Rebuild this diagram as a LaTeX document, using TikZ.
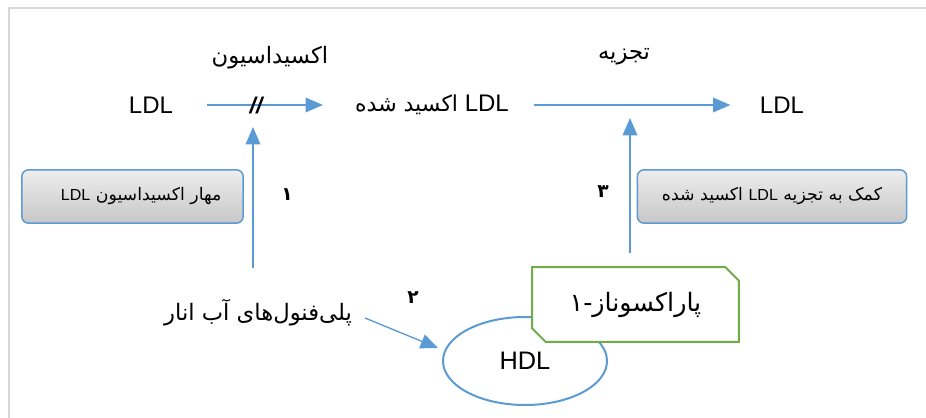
\documentclass[tikz,border=0pt]{standalone}
\usepackage{fontspec}
\setmainfont{Liberation Sans}
\newfontfamily\farsi[Script=Arabic]{DejaVu Sans}
\TeXXeTstate=1
\usetikzlibrary{arrows.meta,shapes.geometric,shapes.misc,positioning}
\definecolor{lineblue}{RGB}{91,155,213}
\definecolor{enzgreen}{RGB}{112,173,71}
\definecolor{framegray}{RGB}{215,215,215}
\tikzset{
  % plain labels
  ldl/.style={font=\fontsize{18}{20}\selectfont, inner sep=0pt},
  falbl/.style={font=\farsi\fontsize{17}{20}\selectfont, inner sep=0pt},
  numlbl/.style={font=\farsi\bfseries\fontsize{14}{17}\selectfont, inner sep=0pt},
  % note box: grey gradient, blue rim
  notebox/.style={draw=lineblue, line width=1.1pt, rounded corners=5pt,
                  top color=black!7, bottom color=black!22,
                  minimum height=40pt, font=\farsi\fontsize{13}{15}\selectfont},
  % enzyme box: snipped corners
  enzyme/.style={draw=enzgreen, line width=1.5pt, fill=white, chamfered rectangle,
                 chamfered rectangle corners={north east,south west},
                 chamfered rectangle xsep=5pt, chamfered rectangle ysep=5pt,
                 minimum width=155pt, minimum height=56pt, inner sep=0pt,
                 font=\farsi\fontsize{19}{22}\selectfont},
  lipo/.style={draw=lineblue, line width=1.5pt, ellipse, minimum width=123pt,
               minimum height=66pt, inner sep=0pt, font=\fontsize{19}{21}\selectfont},
  % arrows
  flowarr/.style={-{Triangle[length=13pt,width=11pt]}, draw=lineblue, line width=1pt}
}
\begin{document}
\begin{tikzpicture}[x=0.75pt, y=-0.75pt]
\useasboundingbox (0,0) rectangle (926,418);

% ============== frame ==============
\draw[framegray, line width=1pt] (9,418) -- (9,8) -- (926,8);

% ============== top row ==============
\node[ldl] (ldlin) at (151,105) {LDL};
\node[ldl] (oxldl) at (432,105) {\beginR\beginL LDL\endL{} {\farsi\fontsize{16.5}{18}\selectfont اکسید شده}\endR};
\node[ldl] (ldlout) at (782,105) {LDL};

\node[falbl] (oxtitle) at (270,58) {\beginR اکسیداسیون\endR};
\node[falbl] (degtitle) at (624,57) {\beginR تجزیه\endR};

\draw[flowarr, shorten <=25pt, shorten >=24pt] (ldlin.east) -- (oxldl.west);
\node[font=\bfseries\itshape\fontsize{17}{18}\selectfont, inner sep=0pt] (block) at (256,106) {//};
\draw[flowarr, shorten <=19pt, shorten >=22pt] (oxldl.east) -- (ldlout.west);

% ============== note boxes ==============
\node[notebox, minimum width=166pt] (inhibit) at (132.5,196.5) {\hspace*{13pt}\beginR مهار اکسیداسیون \beginL{\rmfamily\fontsize{12}{14}\selectfont LDL}\endL\endR};
\node[notebox, minimum width=202pt] (helpdeg) at (772,196.5) {\beginR کمک به تجزیه \beginL{\rmfamily\fontsize{12}{14}\selectfont LDL}\endL{} اکسید شده\endR};

\node[numlbl] (n1) at (287,195) {۱};
\node[numlbl] (n3) at (603,192) {۳};
\node[numlbl] (n2) at (413,298) {۲};

% ============== bottom ==============
\node[falbl] (pf) at (258,313) {\beginR پلی‌فنول‌های آب انار\endR};
\node[lipo] (hdl) at (525,361) {HDL};
\node[enzyme] (pon) at (635.5,304.5) {\beginR پاراکسوناز-۱\endR};

\coordinate (pfup) at (253,268);
\coordinate (pfhit) at (253,127);
\coordinate (pfout) at (365,318);
\coordinate (hdlin) at (438,348);
\coordinate (ponup) at (630,253);
\coordinate (ponhit) at (630,118);

\draw[flowarr] (pfup) -- (pfhit);
\draw[flowarr] (pfout) -- (hdlin);
\draw[flowarr] (ponup) -- (ponhit);

\end{tikzpicture}
\end{document}
